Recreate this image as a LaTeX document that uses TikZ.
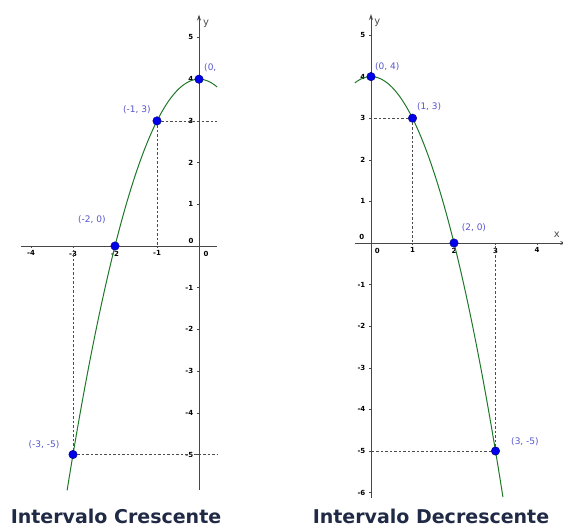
\documentclass[tikz,border=0pt]{standalone}
\usepackage{fontspec}
\setmainfont{DejaVu Sans}
\usetikzlibrary{positioning,arrows.meta}

\definecolor{curvegreen}{RGB}{30,120,40}
\definecolor{ptblue}{RGB}{0,0,235}
\definecolor{lblblue}{RGB}{85,85,205}
\definecolor{titlenavy}{RGB}{32,42,70}

\begin{document}
\begin{tikzpicture}[
    x=1pt, y=1pt,
    axis/.style={draw=black!72, line width=0.8pt},
    axarr/.style={axis, -{Stealth[length=6pt, width=4pt]}},
    tickmark/.style={draw=black!72, line width=0.5pt},
    ticklbl/.style={font=\fontsize{7}{8}\selectfont\bfseries, inner sep=0.5pt},
    axlbl/.style={font=\fontsize{10}{11}\selectfont, text=black!70, inner sep=0pt},
    curve/.style={draw=curvegreen, line width=1pt},
    guide/.style={draw=black!70, line width=0.6pt, dash pattern=on 2.5pt off 2pt},
    pt/.style={circle, fill=ptblue, draw=blue!45!black, line width=0.4pt, minimum size=8.5pt, inner sep=0pt},
    ptlbl/.style={font=\fontsize{9}{10}\selectfont, text=lblblue, inner sep=0pt},
    caption/.style={font=\fontsize{19}{21}\selectfont\bfseries, text=titlenavy, anchor=base, inner sep=0pt}
]
\useasboundingbox (0,0) rectangle (563,528);

% intervalo crescente
\begin{scope}[shift={(199,282)}, x=42pt, y=41.7pt]
  \coordinate (lxl) at (-4.24,0);
  \coordinate (lxr) at (0.43,0);
  \coordinate (lyb) at (0,-5.85);
  \coordinate (lyt) at (0,5.55);
  \draw[axis] (lxl) -- (lxr);
  \draw[axarr] (lyb) -- (lyt);
  \node[axlbl] (ly) at (0.17,5.33) {y};
  \foreach \i in {-4,...,-1} {
    \draw[tickmark] (\i,0) -- ++(0,-2pt);
    \node[ticklbl, anchor=north] at (\i,-0.1) {\i};
  }
  \node[ticklbl, anchor=north] at (0.17,-0.1) {0};
  \foreach \j in {-5,...,-1,1,2,...,5} {
    \draw[tickmark] (0,\j) -- ++(-2pt,0);
    \node[ticklbl, anchor=east] at (-0.12,\j) {\j};
  }
  \node[ticklbl] at (-0.19,0.12) {0};
  \draw[curve] plot[domain=-3.14:0.43, samples=60, smooth] (\x,{4-(\x)^2});
  \node[pt] (lp0) at (0,4) {};
  \node[pt] (lp1) at (-1,3) {};
  \node[pt] (lp2) at (-2,0) {};
  \node[pt] (lp3) at (-3,-5) {};
  \coordinate (lg1) at (0.43,3);
  \coordinate (lg3) at (0.43,-5);
  \draw[guide] (lp1) -- (lg1);
  \draw[guide] (lp1) -- (lp1 |- lxl);
  \draw[guide] (lp3) -- (lg3);
  \draw[guide] (lp3) -- (lp3 |- lxl);
  \node[ptlbl, anchor=west] (l0) at (0.12,4.27) {(0,};
  \node[ptlbl] (l1) at (-1.48,3.26) {(-1, 3)};
  \node[ptlbl] (l2) at (-2.55,0.62) {(-2, 0)};
  \node[ptlbl] (l3) at (-3.69,-4.77) {(-3, -5)};
\end{scope}

% intervalo decrescente
\begin{scope}[shift={(371,285)}, x=41.5pt, y=41.6pt]
  \coordinate (rxl) at (-0.39,0);
  \coordinate (rxr) at (4.7,0);
  \coordinate (ryb) at (0,-6.13);
  \coordinate (ryt) at (0,5.5);
  \draw[axarr] (rxl) -- (rxr);
  \draw[axarr] (ryb) -- (ryt);
  \node[axlbl] (ry) at (0.15,5.29) {y};
  \node[axlbl] (rx) at (4.48,0.19) {x};
  \foreach \i in {1,...,4} {
    \draw[tickmark] (\i,0) -- ++(0,-2pt);
    \node[ticklbl, anchor=north] at (\i,-0.1) {\i};
  }
  \node[ticklbl, anchor=north] at (0.15,-0.1) {0};
  \foreach \j in {-6,...,-1,1,2,...,5} {
    \draw[tickmark] (0,\j) -- ++(-2pt,0);
    \node[ticklbl, anchor=east] at (-0.12,\j) {\j};
  }
  \node[ticklbl] at (-0.22,0.14) {0};
  \draw[curve] plot[domain=-0.39:3.18, samples=60, smooth] (\x,{4-(\x)^2});
  \node[pt] (rp0) at (0,4) {};
  \node[pt] (rp1) at (1,3) {};
  \node[pt] (rp2) at (2,0) {};
  \node[pt] (rp3) at (3,-5) {};
  \draw[guide] (rp1) -- (rp1 -| ryb);
  \draw[guide] (rp1) -- (rp1 |- rxl);
  \draw[guide] (rp3) -- (rp3 -| ryb);
  \draw[guide] (rp3) -- (rp3 |- rxl);
  \node[ptlbl] (r0) at (0.39,4.25) {(0, 4)};
  \node[ptlbl] (r1) at (1.40,3.27) {(1, 3)};
  \node[ptlbl] (r2) at (2.48,0.36) {(2, 0)};
  \node[ptlbl] (r3) at (3.71,-4.78) {(3, -5)};
\end{scope}

\node[caption] (tcres) at (116,4) {Intervalo Crescente};
\node[caption] (tdec) at (431,4) {Intervalo Decrescente};
\end{tikzpicture}
\end{document}
